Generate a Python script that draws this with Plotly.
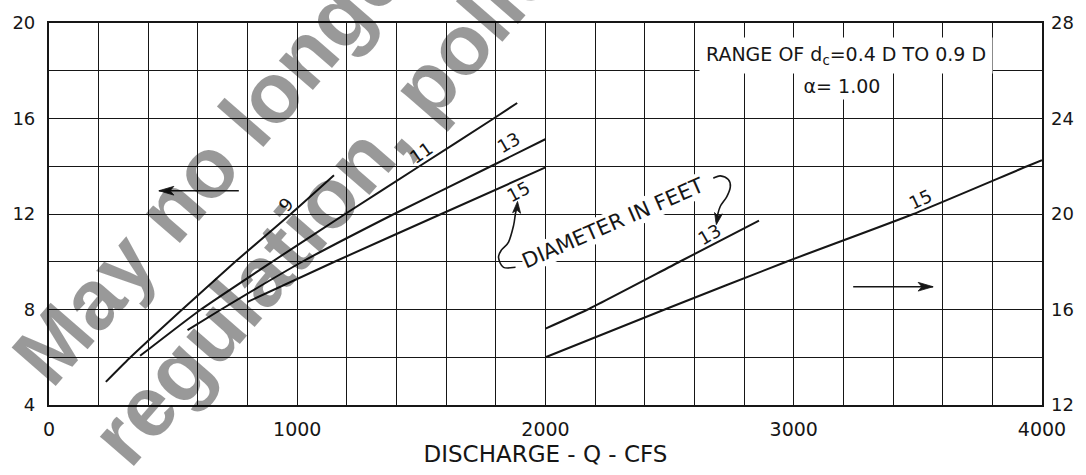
import math
import plotly.graph_objects as go

# Discharge (cfs) vs. head (ft) for each pipe diameter, left-hand scale
q_d9 = [229, 323, 531, 750, 974, 1148]
h_d9 = [4.97, 5.95, 7.95, 10.0, 12.0, 13.62]

q_d11 = [367, 605, 899, 1193, 1492, 1791, 1886]
h_d11 = [6.06, 7.95, 10.0, 12.0, 14.0, 16.0, 16.65]

q_d13 = [558, 693, 1020, 1390, 1780, 1999]
h_d13 = [7.14, 8.0, 10.0, 12.0, 14.0, 15.13]

q_d15 = [800, 1150, 1580, 2000]
h_d15 = [8.32, 10.0, 12.0, 13.95]

# Right-hand scale curves
q_d13_hi = [2000, 2170, 2540, 2860]
h_d13_hi = [15.2, 16.0, 18.0, 19.72]

q_d15_hi = [2000, 2480, 2970, 3482, 3940, 4000]
h_d15_hi = [14.0, 16.0, 18.0, 20.0, 22.0, 22.25]

x_ticks = [0, 1000, 2000, 3000, 4000]
y_left_ticks = [4, 8, 12, 16, 20]
y_right_ticks = [12, 16, 20, 24, 28]

INK = "#161616"
FONT = "DejaVu Sans"

# plot-area geometry in pixels (used to place the hand-drawn notes)
L, R, T, B = 48, 1042, 15, 409


def P(xp, yp):
    """pixel position -> paper coordinates"""
    return ((xp - L) / (R - L), (B - yp) / (B - T))


def path_of(pix, close=False):
    pts = [P(*p) for p in pix]
    d = "M " + " L ".join(f"{x:.5f},{y:.5f}" for x, y in pts)
    return d + (" Z" if close else "")


def smooth_path(pix):
    pts = [P(*p) for p in pix]
    d = f"M {pts[0][0]:.5f},{pts[0][1]:.5f}"
    n = len(pts)
    for i in range(n - 1):
        p0 = pts[i - 1] if i > 0 else pts[i]
        p1, p2 = pts[i], pts[i + 1]
        p3 = pts[i + 2] if i + 2 < n else p2
        c1 = (p1[0] + (p2[0] - p0[0]) / 6, p1[1] + (p2[1] - p0[1]) / 6)
        c2 = (p2[0] - (p3[0] - p1[0]) / 6, p2[1] - (p3[1] - p1[1]) / 6)
        d += (f" C {c1[0]:.5f},{c1[1]:.5f} {c2[0]:.5f},{c2[1]:.5f}"
              f" {p2[0]:.5f},{p2[1]:.5f}")
    return d


def arrow_head(tip, toward, length=13, half=4.2):
    """filled, notched arrowhead at `tip`, pointing away from `toward`"""
    dx, dy = tip[0] - toward[0], tip[1] - toward[1]
    k = math.hypot(dx, dy)
    ux, uy = dx / k, dy / k
    nx, ny = -uy, ux
    bx, by = tip[0] - ux * length, tip[1] - uy * length
    notch = (tip[0] - ux * length * 0.75, tip[1] - uy * length * 0.75)
    pts = [tip, (bx + nx * half, by + ny * half), notch,
           (bx - nx * half, by - ny * half)]
    return dict(type="path", path=path_of(pts, close=True), xref="paper",
                yref="paper", fillcolor=INK, line=dict(color=INK, width=0.8))


fig = go.Figure()

for q, h in [(q_d9, h_d9), (q_d11, h_d11), (q_d13, h_d13), (q_d15, h_d15)]:
    fig.add_trace(go.Scatter(x=q, y=h, mode="lines", yaxis="y",
                             line=dict(color=INK, width=2, shape="spline", smoothing=0.5),
                             hoverinfo="skip", showlegend=False))
for q, h in [(q_d13_hi, h_d13_hi), (q_d15_hi, h_d15_hi)]:
    fig.add_trace(go.Scatter(x=q, y=h, mode="lines", yaxis="y2",
                             line=dict(color=INK, width=2, shape="spline", smoothing=0.5),
                             hoverinfo="skip", showlegend=False))

grid = dict(showgrid=True, gridcolor=INK, gridwidth=1.4)

fig.update_layout(
    width=1086, height=475,
    margin=dict(l=L, r=1086 - R, t=T, b=475 - B),
    paper_bgcolor="white", plot_bgcolor="white",
    font=dict(family=FONT, color=INK, size=17),
    xaxis=dict(range=[0, 4000], tickmode="array", tickvals=x_ticks,
               ticktext=[str(v) for v in x_ticks], **grid,
               minor=dict(tickmode="linear", tick0=0, dtick=200, **grid),
               showline=True, linecolor=INK, linewidth=2.2, mirror=True,
               zeroline=False, ticks="", ticklabelstandoff=6,
               tickfont=dict(size=19),
               title=dict(text="DISCHARGE - Q - CFS", font=dict(size=23), standoff=7)),
    yaxis=dict(range=[4, 20], tickmode="array", tickvals=y_left_ticks, **grid,
               minor=dict(tickmode="linear", tick0=4, dtick=2, **grid),
               showline=True, linecolor=INK, linewidth=2.2, mirror=True,
               zeroline=False, ticks="", ticklabelstandoff=8,
               tickfont=dict(size=18)),
    yaxis2=dict(range=[12, 28], overlaying="y", side="right", tickmode="array",
                tickvals=y_right_ticks, showgrid=False, zeroline=False,
                showline=False, ticks="", ticklabelstandoff=8,
                tickfont=dict(size=18)),
)

ann = []


def label(text, xp, yp, angle, size=18, **kw):
    x, y = P(xp, yp)
    ann.append(dict(text=text, x=x, y=y, xref="paper", yref="paper",
                    showarrow=False, textangle=angle, xanchor="center",
                    yanchor="middle", font=dict(size=size, color=INK, family=FONT), **kw))


# curve labels
label("9", 285, 202, -50)
label("11", 421, 149, -35)
label("13", 508, 138, -30)
label("15", 518, 189, -28)
label("13", 709, 233, -30)
label("15", 920, 197, -25)

label("DIAMETER IN FEET", 613, 221, -23.5, size=21, bgcolor="white", borderpad=0)

# notes
label("RANGE OF d<sub>c</sub>=0.4 D TO 0.9 D", 845.5, 48.5, 0, size=19,
      width=292, height=35, bgcolor="white", borderpad=0, align="center",
      valign="middle")
label("α= 1.00", 842, 80, 0, size=19, width=80, height=26, bgcolor="white",
      borderpad=0)

# watermark
for text, cx, cy in [("May no longer", 218, 150), ("regulation, policy", 338, 183)]:
    x, y = P(cx, cy)
    ann.append(dict(text=text, x=x, y=y, xref="paper", yref="paper", showarrow=False,
                    textangle=-49, xanchor="center", yanchor="middle",
                    font=dict(size=85, family="Liberation Sans", weight="bold",
                              color="rgba(0,0,0,0.4)")))

fig.update_layout(annotations=ann)

shapes = []
# direction arrows: which scale applies
for head, tail in [((158, 188), (238, 188)), ((933, 287), (853, 287))]:
    shapes.append(dict(type="path", path=path_of([tail, head]), xref="paper",
                       yref="paper", line=dict(color=INK, width=1.6)))
    shapes.append(arrow_head(head, tail, length=15, half=4.5))

# curly leaders from the "DIAMETER IN FEET" note
curl_a = [(515, 267), (503, 267), (498, 257), (501, 249), (508, 241),
          (513, 224), (515, 211), (517, 203)]
curl_b = [(713, 175), (720, 172.7), (728, 176.5), (730, 184), (726.5, 194),
          (720, 204), (717, 214), (716, 220)]
for c in (curl_a, curl_b):
    shapes.append(dict(type="path", path=smooth_path(c), xref="paper", yref="paper",
                       line=dict(color=INK, width=1.6)))
shapes.append(arrow_head((517, 199), (516, 212), length=12, half=4))
shapes.append(arrow_head((716, 223), (718, 212), length=12, half=4))

fig.update_layout(shapes=shapes)

fig.write_html("out.html")
